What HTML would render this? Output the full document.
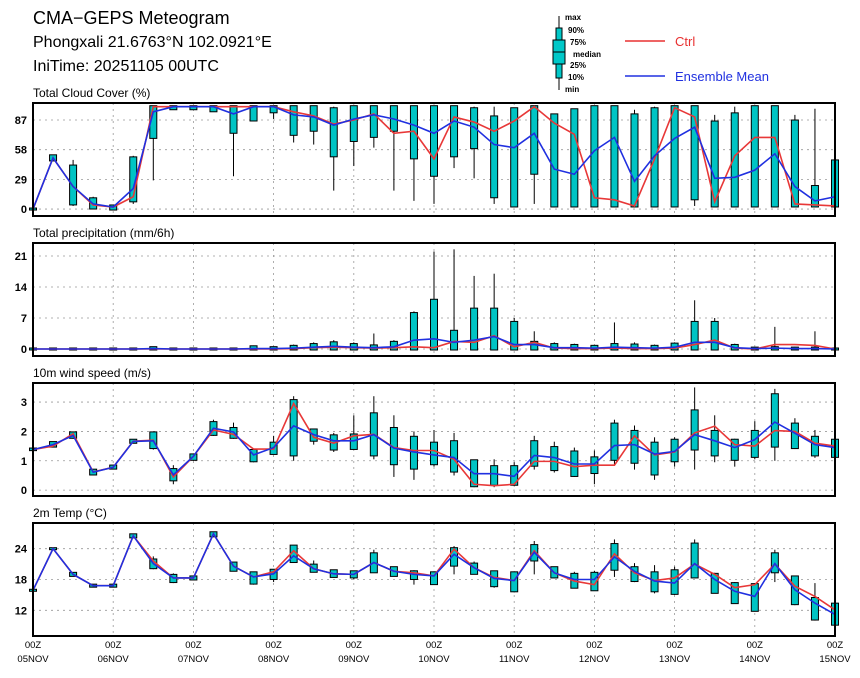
<!DOCTYPE html>
<html><head><meta charset="utf-8"><style>
html,body{margin:0;padding:0;background:#fff;}
svg{display:block;font-family:"Liberation Sans",sans-serif;}
</style></head><body>
<svg id="c" width="860" height="678" viewBox="0 0 860 678" xmlns="http://www.w3.org/2000/svg">
<text x="33" y="24" font-size="18">CMA−GEPS Meteogram</text>
<text x="33" y="47" font-size="16">Phongxali 21.6763°N 102.0921°E</text>
<text x="33" y="71" font-size="16">IniTime: 20251105 00UTC</text>
<g>
<line x1="559" y1="16" x2="559" y2="90" stroke="#000"/>
<rect x="556" y="28" width="6" height="50" fill="#00c8c8" stroke="#000"/>
<rect x="553" y="40" width="12" height="24" fill="#00c8c8" stroke="#000"/>
<line x1="553" y1="52" x2="565" y2="52" stroke="#000"/>
<g font-size="8" font-weight="bold"><text x="565" y="20">max</text><text x="568" y="33">90%</text><text x="570" y="45">75%</text><text x="573" y="57">median</text><text x="570" y="68">25%</text><text x="568" y="80">10%</text><text x="565" y="92">min</text></g>
</g>
<g><line x1="625" y1="41" x2="665" y2="41" stroke="#e83030" stroke-width="1.5"/><text x="675" y="46" font-size="13" fill="#e83030">Ctrl</text></g>
<g><line x1="625" y1="76" x2="665" y2="76" stroke="#2030e0" stroke-width="1.5"/><text x="675" y="81" font-size="13" fill="#2030e0">Ensemble Mean</text></g>
<g id="plots"></g>
</svg>
<script>
// ---- Data (41 six-hourly steps, 05NOV00Z .. 15NOV00Z) ----
const dayLabels = ["05NOV","06NOV","07NOV","08NOV","09NOV","10NOV","11NOV","12NOV","13NOV","14NOV","15NOV"];
// Cloud cover (%)
const cloudMean = [0,50,22,5,2,20,95,100,100,100,93,100,100,92,90,82,88,92,88,82,74,86,80,63,60,74,39,34,57,70,27,52,69,80,30,31,38,54,22,8,12];
const cloudCtrl = [0,50,22,4,2,12,100,100,100,100,100,100,100,95,91,83,87,93,74,76,49,90,85,76,86,100,84,73,11,9,3,49,99,90,7,52,70,70,5,4,3];
const cloudBoxLo = [0,48,5,1,0,8,70,98,98,96,75,87,95,73,77,52,67,71,77,50,33,52,60,12,3,35,3,3,3,3,3,3,3,10,3,3,3,3,3,3,3];
const cloudBoxHi = [0,52,42,10,3,50,100,100,100,100,100,100,100,100,100,98,100,100,100,100,100,100,98,90,98,100,92,97,100,100,92,98,100,100,85,93,100,100,86,22,47];
const cloudMin = [0,48,3,0,0,5,28,98,98,95,32,87,88,65,63,18,42,60,18,8,5,40,30,5,3,5,3,3,3,3,3,3,3,3,3,3,3,3,3,3,3];
const cloudMax = [0,52,48,12,3,52,100,100,100,100,100,100,100,100,100,100,100,100,100,100,100,100,100,100,99,100,92,97,100,100,97,100,100,100,92,100,100,100,92,98,47];
// Precipitation (mm/6h)
const precMean = [0,0,0,0,0,0,0.1,0,0,0,0,0.1,0.1,0.2,0.4,0.6,0.4,0.3,0.5,2,2.3,1.5,2,2.8,1,1,0.3,0.3,0.2,0.4,0.3,0.2,0.4,1.5,1.5,0.3,0.1,0.2,0.1,0.1,0];
const precCtrl = [0,0,0,0,0,0,0,0,0,0,0,0,0,0.1,0.3,0.4,0.3,0.2,0.3,0.5,0.3,1.7,1.5,3,0.5,1.5,0.2,0.1,0.1,0.2,0.1,0.1,0.2,1,2,0.2,0,1,1,0.8,0];
const precBoxLo = [0,0,0,0,0,0,0,0,0,0,0,0,0,0,0,0,0,0,0,0,0,0,0,0,0,0,0,0,0,0,0,0,0,0,0,0,0,0,0,0,0];
const precBoxHi = [0,0,0,0,0,0,0.3,0,0,0,0,0.5,0.3,0.6,1,1.4,1,0.7,1.5,8,11,4,9,9,6,1.5,1,0.8,0.6,1,0.9,0.6,1.1,6,6,0.8,0.2,0.3,0.2,0.2,0];
const precMax = [0,0,0,0,0,0,0.4,0,0,0,0,0.8,0.4,1,1.5,2,1.5,3.5,2,8.5,22,22.5,16.5,17,7,4,1.5,1.2,1,6,1.5,1,1.5,11,7,1.2,0.3,5,0.5,4,0];
// 10m wind speed (m/s)
const windMean = [1.38,1.55,1.86,0.61,0.78,1.66,1.68,0.52,1.15,2.11,1.98,1.2,1.45,2.19,1.89,1.68,1.68,1.89,1.43,1.3,1.2,1.11,0.56,0.56,0.47,1.18,1.11,0.89,0.89,1.52,1.55,1.23,1.32,1.89,1.68,1.45,1.72,2.32,1.94,1.55,1.45];
const windCtrl = [1.38,1.5,1.92,0.62,0.78,1.67,1.7,0.45,1.15,2.05,1.9,1.4,1.4,2.95,1.8,1.6,1.85,1.9,1.45,1.35,1.35,1.05,0.2,0.15,0.2,0.98,0.98,0.8,0.85,0.85,1.85,1.2,1.3,1.95,2.18,1.55,1.5,2.03,2.0,1.6,1.5];
const windBoxLo = [1.38,1.5,1.8,0.55,0.75,1.63,1.45,0.35,1.05,1.9,1.8,1.0,1.25,1.2,1.7,1.4,1.42,1.2,0.9,0.75,0.9,0.65,0.15,0.2,0.2,0.85,0.7,0.5,0.6,1.05,0.95,0.55,1.0,1.4,1.2,1.05,1.15,1.5,1.45,1.2,1.15];
const windBoxHi = [1.4,1.62,1.95,0.68,0.82,1.7,1.95,0.7,1.2,2.3,2.1,1.35,1.6,3.05,2.05,1.85,1.88,2.6,2.1,1.8,1.6,1.65,1.0,0.8,0.8,1.65,1.45,1.3,1.1,2.25,2.0,1.6,1.7,2.7,2.0,1.7,2.0,3.25,2.25,1.8,1.7];
const windMin = [1.38,1.48,1.75,0.5,0.74,1.62,1.38,0.2,1.0,1.85,1.75,0.95,1.22,1.0,1.55,1.3,1.4,1.05,0.45,0.35,0.8,0.5,0.1,0.1,0.15,0.7,0.6,0.45,0.2,0.85,0.7,0.35,0.8,0.7,0.95,0.8,1.05,1.0,1.4,1.1,1.1];
const windMax = [1.4,1.65,1.98,0.7,0.83,1.71,1.98,0.85,1.25,2.4,2.3,1.4,1.85,3.2,2.1,1.95,2.55,3.2,2.55,2.0,2.05,1.95,1.0,1.05,0.95,1.85,1.65,1.45,1.35,2.4,2.2,1.8,1.8,3.5,2.55,1.75,2.35,3.45,2.45,2.05,1.75];
// 2m temperature (°C)
const tempMean = [15.9,24,19,16.8,16.8,26.5,21.1,18.3,18.3,26.9,20.6,18.5,19.1,22.6,20.1,19.1,19,21.3,19.6,19,18.7,22.9,20.3,18.2,17.8,23.3,19.3,18,18,22.4,19.6,17.7,17.3,21.1,18,15.7,14.7,21.1,16,13.4,11.2];
const tempCtrl = [15.9,24,19,16.8,16.8,26.5,21.6,18.3,18.3,26.9,20.6,18.5,19.5,23.6,20.1,19.1,19,21.3,19.6,19.3,18.7,23.9,20.3,18.4,17.8,23.6,19.3,17.7,17,23,19.3,17.8,18.3,21,19,16.4,17,21,16.7,14.7,12.1];
const tempBoxLo = [15.9,24,18.8,16.7,16.7,26.3,20.3,17.6,18.1,26.5,19.8,17.3,18.2,21.5,19.6,18.6,18.5,19.5,18.8,18.2,17.2,20.8,19.2,16.8,15.8,21.8,18.5,16.5,16,20,17.8,15.8,15.3,18.5,15.5,13.5,12,19.5,13.3,10.3,9.3];
const tempBoxHi = [15.9,24,19.2,16.9,16.9,26.7,21.8,18.8,18.5,27.1,21.2,19.3,19.8,24.5,20.8,19.7,19.5,23,20.3,19.5,19.3,24,21,19.5,19.3,24.6,20.3,19,19.2,24.8,20.3,19.3,19.7,24.9,19,17.2,17,23,18.5,14.3,13.2];
const tempMin = [15.9,24,18.8,16.7,16.7,26.3,20,17.3,18.1,26.5,19.7,17,17.5,21.3,19.4,18.4,18,19.3,18.6,17,17,19,19,16.4,15.5,19,18.3,16.3,15.8,18.5,17.5,15.3,15,18.3,15.3,13.3,11.8,17.5,13,10,9];
const tempMax = [15.9,24,19.2,16.9,16.9,26.7,22.5,19.2,18.5,27.1,21.4,19.5,20,24.6,21.7,19.8,19.7,23.8,20.5,19.8,19.5,24.5,21.5,19.7,19.5,25.5,20.5,19.5,19.7,25.8,21.2,20.8,20.5,25.8,19.3,17.5,17.3,23.8,18.7,17.3,13.5];
const cloudTicks = [0,29,58,87], precTicks=[0,7,14,21], windTicks=[0,1,2,3], tempTicks=[12,18,24];

const NS="http://www.w3.org/2000/svg";
const root=document.getElementById('plots');
const X0=33,X1=835,N=41;
const xs=i=>X0+(X1-X0)*i/(N-1);
function mk(tag,attrs,parent){const e=document.createElementNS(NS,tag);for(const k in attrs)e.setAttribute(k,attrs[k]);(parent||root).appendChild(e);return e;}

function panel(name,title,top,bot,vmin,vmax,ticks,mean,ctrl,lo,hi,mn,mx){
  const g=mk('g',{});
  
  
  const ys=v=>bot-(v-vmin)/(vmax-vmin)*(bot-top);
  const t=mk('text',{x:33,y:top-6,'font-size':12},g);t.textContent=title;
  
  
  for(let d=1;d<10;d++){const x=X0+(X1-X0)*d/10;const l=mk('line',{x1:x,x2:x,y1:top,y2:bot,stroke:'#999','stroke-dasharray':'2,4','stroke-width':0.8},g);
    
    }
  ticks.forEach(v=>{const y=ys(v);const l=mk('line',{x1:X0,x2:X1,y1:y,y2:y,stroke:'#999','stroke-dasharray':'2,4','stroke-width':0.8},g);
    
    
    const tx=mk('text',{x:27,y:y+4,'font-size':11,'font-weight':'bold','text-anchor':'end'},g);tx.textContent=v;
    
    });
  for(let i=0;i<N;i++){const x=xs(i);
    const w=mk('line',{x1:x,x2:x,y1:ys(mn[i]),y2:ys(mx[i]),stroke:'#000','stroke-width':1},g);
    
    
    const y1=ys(hi[i]),y2=ys(lo[i]);
    const b=mk('rect',{x:x-3.5,y:y1-1,width:7,height:Math.max(2,y2-y1+2),fill:'#00c4c4',stroke:'#000','stroke-width':1},g);
    
    }
  const pl=(arr,col,nm)=>{const p=mk('polyline',{points:arr.map((v,i)=>xs(i)+','+ys(v)).join(' '),fill:'none',stroke:col,'stroke-width':1.6},g);
    
    };
  pl(ctrl,'#e83838',name+'-ctrl-line');
  pl(mean,'#2030e0',name+'-mean-line');
  const f=mk('rect',{x:X0,y:top,width:X1-X0,height:bot-top,fill:'none',stroke:'#000','stroke-width':2},g);
  
  
}
panel('cloud','Total Cloud Cover (%)',103,216,-6.8,103.6,cloudTicks,cloudMean,cloudCtrl,cloudBoxLo,cloudBoxHi,cloudMin,cloudMax);
panel('precip','Total precipitation (mm/6h)',243,356,-1.58,23.93,precTicks,precMean,precCtrl,precBoxLo,precBoxHi,precBoxLo,precMax);
panel('wind','10m wind speed (m/s)',383,496,-0.2,3.65,windTicks,windMean,windCtrl,windBoxLo,windBoxHi,windMin,windMax);
panel('temp','2m Temp (°C)',523,636,7.0,29.0,tempTicks,tempMean,tempCtrl,tempBoxLo,tempBoxHi,tempMin,tempMax);
dayLabels.forEach((d,i)=>{const x=X0+(X1-X0)*i/10;
  const a=mk('text',{x:x,y:648,'font-size':9.5,'text-anchor':'middle'});a.textContent='00Z';
  
  
  const b=mk('text',{x:x,y:662,'font-size':9.5,'text-anchor':'middle'});b.textContent=d;
  
  });
</script>
</body></html>
